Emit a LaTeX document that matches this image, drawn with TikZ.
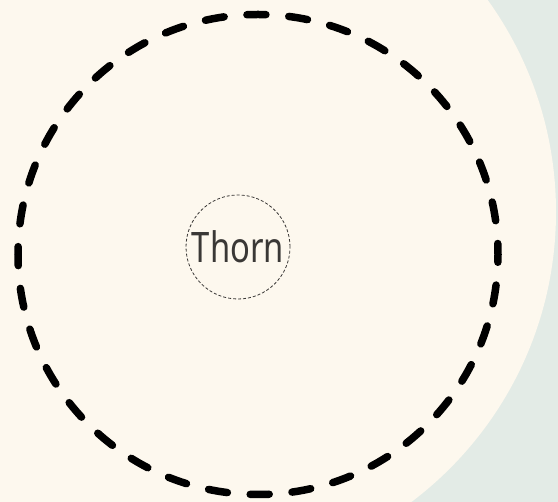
\documentclass[tikz,border=0pt]{standalone}
\usepackage{fontspec}
\usepackage{graphicx}
\setmainfont{Noto Sans}
\usetikzlibrary{positioning}

\definecolor{pagebg}{HTML}{E3EBE6}
\definecolor{cream}{HTML}{FDF8EE}
\definecolor{inkgrey}{HTML}{3A3836}

\begin{document}
\begin{tikzpicture}[x=1pt, y=-1pt,
  ringline/.style={draw=black, line width=7.5pt, line cap=round, dash pattern=on 19pt off 22.9pt, dash phase=8pt},
  thornnode/.style={circle, draw=inkgrey, line width=0.8pt, dash pattern=on 3pt off 2pt,
    minimum size=104pt, inner sep=0pt, text=inkgrey, font=\fontsize{42}{44}\selectfont}]
  % Backdrop and page
  \fill[pagebg] (0,0) rectangle (558,502);
  \useasboundingbox (0,0) rectangle (558,502);
  \begin{scope}
    \clip (0,0) rectangle (558,502);
    \fill[cream] (193,212) circle (363pt);
  \end{scope}

  % Outer dashed ring
  \draw[ringline] (258,254.5) circle (240pt);

  % Centre node
  \node[thornnode] (thorn) at (238,247) {\scalebox{0.78}[1]{Thorn}};
\end{tikzpicture}
\end{document}
